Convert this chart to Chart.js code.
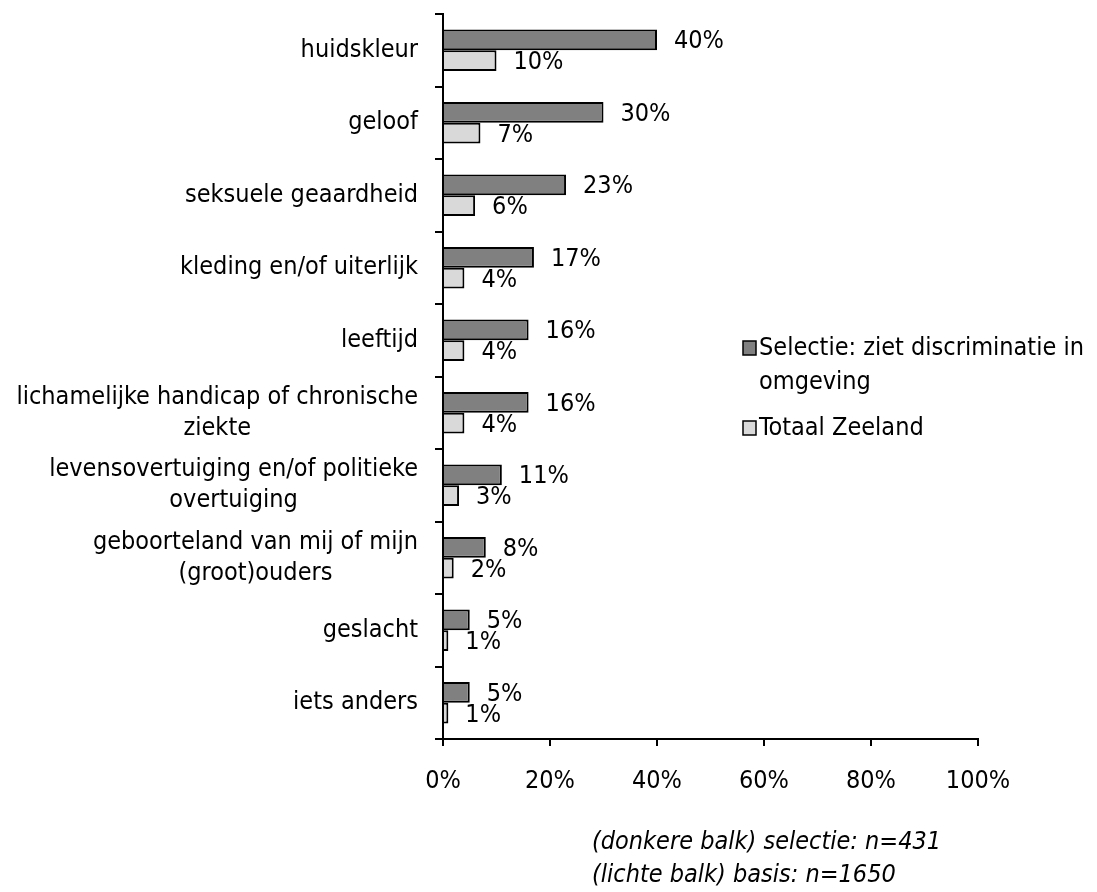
<!DOCTYPE html>
<html>
<head>
<meta charset="utf-8">
<script src="https://cdn.jsdelivr.net/npm/chart.js@4.4.1/dist/chart.umd.min.js"></script>
<style>
  html, body { margin: 0; padding: 0; background: #fff; }
  #wrap { width: 1097px; height: 892px; }
</style>
</head>
<body>
<div id="wrap"><canvas id="myChart" width="1097" height="892"></canvas></div>
<script>
// categories (top to bottom), multi-line labels as arrays
const categories = [
  'huidskleur',
  'geloof',
  'seksuele geaardheid',
  'kleding en/of uiterlijk',
  'leeftijd',
  ['lichamelijke handicap of chronische', 'ziekte'],
  ['levensovertuiging en/of politieke', 'overtuiging'],
  ['geboorteland van mij of mijn', '(groot)ouders'],
  'geslacht',
  'iets anders'
];
const selectie = [40, 30, 23, 17, 16, 16, 11, 8, 5, 5];
const totaal = [10, 7, 6, 4, 4, 4, 3, 2, 1, 1];
const seriesNames = ['Selectie: ziet discriminatie in omgeving', 'Totaal Zeeland'];
const xTicks = [0, 20, 40, 60, 80, 100];
const footnotes = ['(donkere balk) selectie: n=431', '(lichte balk) basis: n=1650'];

const FONT = "'DejaVu Sans Condensed', 'Liberation Sans', sans-serif";
const SIZE = 25;

const ctx = document.getElementById('myChart');

// category labels: block right aligned against the axis, lines centred
const catLabels = {
  id: 'catLabels',
  afterDraw(chart) {
    const c = chart.ctx;
    const y = chart.scales.y;
    const right = chart.chartArea.left - 25;
    c.save();
    c.font = SIZE + 'px ' + FONT;
    c.fillStyle = '#000';
    c.textAlign = 'center';
    c.textBaseline = 'middle';
    categories.forEach(function(lab, i) {
      const lines = Array.isArray(lab) ? lab : [lab];
      const w = Math.max.apply(null, lines.map(l => c.measureText(l).width));
      const cx = right - w / 2;
      const yc = y.getPixelForValue(i);
      const lh = 31;
      lines.forEach(function(l, k) {
        c.fillText(l, cx, yc + (k - (lines.length - 1) / 2) * lh);
      });
    });
    c.restore();
  }
};

// value labels next to each bar
const valueLabels = {
  id: 'valueLabels',
  afterDatasetsDraw(chart) {
    const c = chart.ctx;
    c.save();
    c.font = SIZE + 'px ' + FONT;
    c.fillStyle = '#000';
    c.textAlign = 'left';
    c.textBaseline = 'middle';
    chart.data.datasets.forEach(function(ds, di) {
      chart.getDatasetMeta(di).data.forEach(function(bar, i) {
        c.fillText(ds.data[i] + '%', bar.x + 17, bar.y + 2);
      });
    });
    c.restore();
  }
};

// legend inside the plot, plus the footnotes
const sideLegend = {
  id: 'sideLegend',
  afterDraw(chart) {
    const c = chart.ctx;
    c.save();
    c.font = SIZE + 'px ' + FONT;
    c.textBaseline = 'middle';
    c.textAlign = 'left';
    const x0 = 743, tx = 759;
    let yy = 348;
    chart.data.datasets.forEach(function(ds) {
      // wrap the label at ~335px
      const words = ds.label.split(' ');
      const lines = [];
      let cur = '';
      words.forEach(function(w) {
        const t = cur ? cur + ' ' + w : w;
        if (c.measureText(t).width > 335 && cur) { lines.push(cur); cur = w; }
        else cur = t;
      });
      lines.push(cur);
      c.fillStyle = ds.backgroundColor;
      c.fillRect(x0, yy - 7, 13, 14);
      c.strokeStyle = '#000';
      c.lineWidth = 1.5;
      c.strokeRect(x0, yy - 7, 13, 14);
      c.fillStyle = '#000';
      lines.forEach(function(l, k) { c.fillText(l, tx, yy + k * 34); });
      yy += lines.length * 34 + 12;
    });
    c.font = 'italic ' + SIZE + 'px ' + FONT;
    footnotes.forEach(function(f, k) {
      c.fillText(f, 592, 842 + k * 33);
    });
    c.restore();
  }
};

new Chart(ctx, {
  type: 'bar',
  data: {
    labels: categories,
    datasets: [{
      label: seriesNames[0],
      data: selectie,
      backgroundColor: '#808080',
      borderColor: '#000',
      borderWidth: 2,
      categoryPercentage: 0.57,
      barPercentage: 1.0
    }, {
      label: seriesNames[1],
      data: totaal,
      backgroundColor: '#d9d9d9',
      borderColor: '#000',
      borderWidth: 2,
      categoryPercentage: 0.57,
      barPercentage: 1.0
    }]
  },
  options: {
    indexAxis: 'y',
    responsive: false,
    animation: false,
    layout: { padding: { top: 14, right: 119, left: 0, bottom: 0 } },
    plugins: {
      legend: { display: false },
      tooltip: { enabled: false }
    },
    scales: {
      x: {
        min: 0,
        max: 100,
        afterBuildTicks: function(s) { s.ticks = xTicks.map(v => ({ value: v })); },
        afterFit: function(s) { s.height = 892 - 739; },
        border: { color: '#000', width: 2 },
        grid: { drawOnChartArea: false, drawTicks: true, tickLength: 7, color: '#000', lineWidth: 2 },
        ticks: {
          color: '#000',
          padding: 20,
          font: { family: FONT, size: SIZE },
          callback: v => v + '%'
        }
      },
      y: {
        afterFit: function(s) { s.width = 443; },
        border: { color: '#000', width: 2 },
        grid: { drawOnChartArea: false, drawTicks: true, tickLength: 8, color: '#000', lineWidth: 2, offset: true },
        ticks: { display: false }
      }
    }
  },
  plugins: [catLabels, valueLabels, sideLegend]
});
</script>
</body>
</html>
